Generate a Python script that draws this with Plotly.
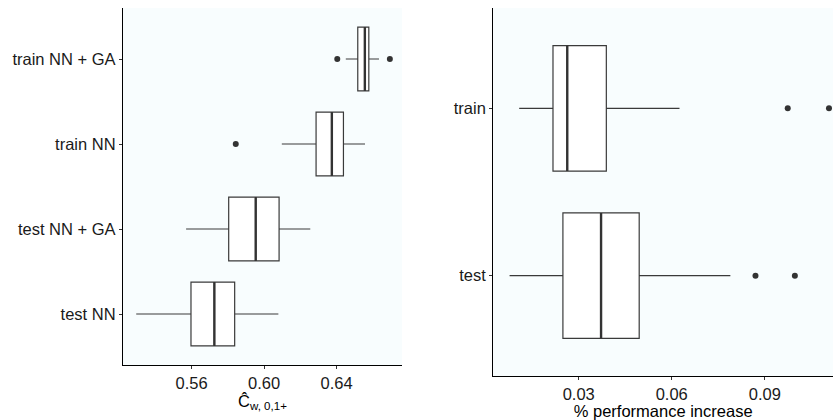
import plotly.graph_objects as go

# ---- data (left panel) ----
left_cats = ["test NN", "test NN + GA", "train NN", "train NN + GA"]
left_low = [0.5295, 0.5570, 0.6098, 0.6451]
left_q1 = [0.5597, 0.5805, 0.6287, 0.6517]
left_med = [0.5726, 0.5954, 0.6374, 0.6556]
left_q3 = [0.5838, 0.6083, 0.6438, 0.6578]
left_high = [0.6079, 0.6255, 0.6557, 0.6634]
left_out_cat = ["train NN", "train NN + GA", "train NN + GA"]
left_out_val = [0.5844, 0.6404, 0.6694]

# ---- data (right panel) ----
right_cats = ["test", "train"]
right_low = [0.0077, 0.0108]
right_q1 = [0.0249, 0.0217]
right_med = [0.0372, 0.0263]
right_q3 = [0.0495, 0.0389]
right_high = [0.0789, 0.0625]
right_out_cat = ["test", "test", "train", "train"]
right_out_val = [0.0870, 0.0997, 0.0974, 0.1107]

left_ticks = [0.56, 0.60, 0.64]
right_ticks = [0.03, 0.06, 0.09]

BOX_W = 0.75
LINE = "#3a3a3a"
BG = "#F8FDFE"
FONT = "Liberation Sans, Arial, sans-serif"

fig = go.Figure()


def add_panel(cats, low, q1, med, q3, high, out_cat, out_val, xa, ya):
    pos = {c: i + 1 for i, c in enumerate(cats)}
    for i, c in enumerate(cats):
        fig.add_trace(go.Box(
            orientation="h", y=[pos[c]], q1=[q1[i]], median=[med[i]], q3=[q3[i]],
            lowerfence=[low[i]], upperfence=[high[i]], width=BOX_W,
            fillcolor="white", line=dict(color=LINE, width=1.2), whiskerwidth=0,
            boxpoints=False, xaxis=xa, yaxis=ya, showlegend=False, hoverinfo="skip"))
        fig.add_trace(go.Scatter(
            x=[med[i], med[i]], y=[pos[c] - BOX_W / 2, pos[c] + BOX_W / 2],
            mode="lines", line=dict(color="#333333", width=2.4),
            xaxis=xa, yaxis=ya, showlegend=False, hoverinfo="skip"))
    fig.add_trace(go.Scatter(
        x=out_val, y=[pos[c] for c in out_cat], mode="markers",
        marker=dict(color="#333333", size=6), xaxis=xa, yaxis=ya,
        showlegend=False, hoverinfo="skip", cliponaxis=False))
    return pos


lpos = add_panel(left_cats, left_low, left_q1, left_med, left_q3, left_high,
                 left_out_cat, left_out_val, "x", "y")
rpos = add_panel(right_cats, right_low, right_q1, right_med, right_q3, right_high,
                 right_out_cat, right_out_val, "x2", "y2")

W, H = 833, 420
axis_common = dict(showline=True, linecolor="black", linewidth=1.2, showgrid=False,
                   zeroline=False, ticks="outside", ticklen=3, tickcolor="#333333",
                   tickwidth=1, tickfont=dict(size=16.5, color="#1a1a1a", family=FONT))

fig.update_layout(
    width=W, height=H,
    margin=dict(l=0, r=0, t=8, b=44),
    paper_bgcolor="white",
    plot_bgcolor=BG,
    font=dict(family=FONT, size=16.5, color="black"),
    xaxis=dict(domain=[123 / W, 402 / W], range=[0.5222, 0.6761],
               tickvals=left_ticks, ticktext=[f"{v:.2f}" for v in left_ticks],
               title=dict(text="Ĉ<sub>w, 0,1+</sub>", standoff=2,
                          font=dict(size=16.5, family=FONT)),
               anchor="y", **axis_common),
    yaxis=dict(domain=[11 / 368, 1], range=[0.4, 4.6],
               tickvals=list(lpos.values()), ticktext=list(lpos.keys()),
               anchor="x", **axis_common),
    xaxis2=dict(domain=[493.3 / W, 1.0], range=[0.00245, 0.112],
                tickvals=right_ticks, ticktext=[f"{v:.2f}" for v in right_ticks],
                title=dict(text="% performance increase", standoff=0,
                           font=dict(size=16.5, family=FONT)),
                anchor="y2", **axis_common),
    yaxis2=dict(domain=[0, 1], range=[0.4, 2.6],
                tickvals=list(rpos.values()), ticktext=list(rpos.keys()),
                anchor="x2", **axis_common),
)

fig.write_html("out.html", config={"displayModeBar": False},
               post_script="document.body.style.margin='0';document.body.style.overflow='hidden';")
